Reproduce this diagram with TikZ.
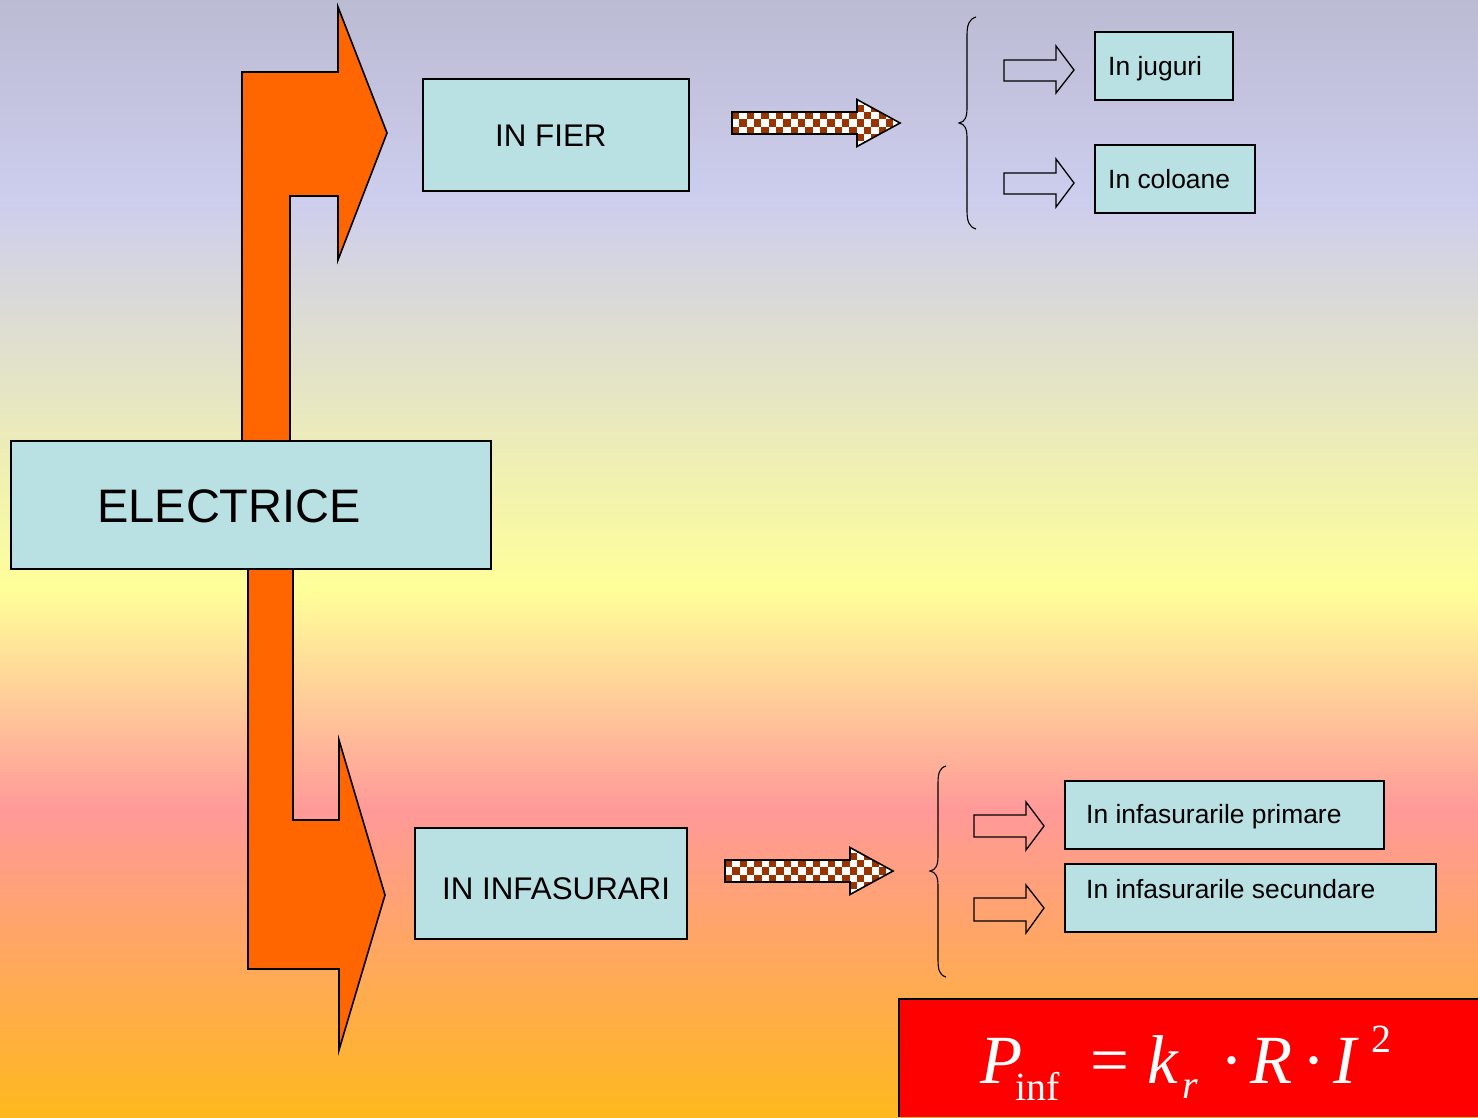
\documentclass[tikz,border=0pt]{standalone}
\usepackage{fontspec}
\setmainfont{Liberation Sans}
\newfontfamily\formfont{Liberation Serif}
\definecolor{bgtop}{HTML}{BBBBD3}
\definecolor{bglav}{HTML}{CDCDEE}
\definecolor{bgyel}{HTML}{FFFF99}
\definecolor{bgpink}{HTML}{FF9999}
\definecolor{bgbot}{HTML}{FFB81E}
\definecolor{boxfill}{HTML}{B9E0E3}
\definecolor{bigarrow}{HTML}{FF6600}
\definecolor{checker}{HTML}{993300}
\newcommand{\chkarrow}[1]{%
  \begin{scope}[shift={#1}]
    \begin{scope}
      \clip (0,-11) -- (125,-11) -- (125,-23.5) -- (168,0) -- (125,23.5) -- (125,11) -- (0,11) -- cycle;
      \fill[white] (-2,-30) rectangle (172,30);
      \foreach \i in {0,2,...,24}{
        \foreach \j in {0,2,4,6}{
          \fill[checker] (\i*7.333,-25.67+\j*7.333) rectangle ++(7.333,7.333);
          \fill[checker] (\i*7.333+7.333,-25.67+\j*7.333+7.333) rectangle ++(7.333,7.333);
        }
      }
    \end{scope}
    \draw[line width=1.6pt,line join=miter] (0,-11) -- (125,-11) -- (125,-23.5) -- (168,0) -- (125,23.5) -- (125,11) -- (0,11) -- cycle;
  \end{scope}}
\begin{document}
\begin{tikzpicture}[x=1pt,y=-1pt,
  box/.style={draw=black,line width=1.5pt,fill=boxfill,inner sep=0pt},
  txt/.style={anchor=base west,inner sep=0pt,text=black},
  outarrow/.style={draw=black,line width=1.3pt,line join=miter},
  curly/.style={draw=black,line width=1.1pt},
  orangearrow/.style={fill=bigarrow,draw=black,line width=1.6pt,line join=miter},
  formtxt/.style={anchor=base west,inner sep=0pt,text=white,font=\formfont}]
\useasboundingbox (0,0) rectangle (1478,1117);
% background bands
\shade[top color=bgtop,bottom color=bglav] (0,0) rectangle (1478,200.5);
\shade[top color=bglav,bottom color=bgyel] (0,200) rectangle (1478,590.5);
\shade[top color=bgyel,bottom color=bgpink] (0,590) rectangle (1478,810.5);
\shade[top color=bgpink,bottom color=bgbot] (0,810) rectangle (1478,1117);

% large orange arrows
\path[orangearrow] (242,470) -- (242,72) -- (338,72) -- (338,7) -- (387,133) -- (338,260) -- (338,196) -- (290,196) -- (290,470) -- cycle;
\path[orangearrow] (248,540) -- (248,969) -- (339,969) -- (339,1050) -- (385,895) -- (339,740) -- (339,820) -- (293,820) -- (293,540) -- cycle;

% main boxes
\node[box,minimum width=480pt,minimum height=128pt] (elec) at (251,505) {};
\node[txt,font=\fontsize{47}{56}\selectfont] (electxt) at (97,522) {ELECTRICE};
\node[box,minimum width=266pt,minimum height=112pt] (fier) at (556,135) {};
\node[txt,font=\fontsize{31.3}{38}\selectfont] (fiertxt) at (495,146) {IN FIER};
\node[box,minimum width=272pt,minimum height=111pt] (infas) at (551,883.5) {};
\node[txt,font=\fontsize{31.3}{38}\selectfont] (infastxt) at (442,899) {IN INFASURARI};

% checkered arrows
\chkarrow{(732,123)}
\chkarrow{(725,871)}

% braces
\draw[curly] (976,17) .. controls (969,19) and (967,25) .. (967,35) -- (967,108)
  .. controls (967,117) and (965,122) .. (959,123)
  .. controls (965,124) and (967,129) .. (967,138) -- (967,211)
  .. controls (967,221) and (969,227) .. (976,229);
\draw[curly] (946,766) .. controls (939,768) and (938,774) .. (938,784) -- (938,856)
  .. controls (938,865) and (936,870) .. (930,871)
  .. controls (936,872) and (938,877) .. (938,886) -- (938,959)
  .. controls (938,969) and (939,975) .. (946,977);

% small outlined arrows
\draw[outarrow] (1004,60) -- (1056,60) -- (1056,46) -- (1074,70) -- (1056,93) -- (1056,81) -- (1004,81) -- cycle;
\draw[outarrow] (1004,173) -- (1056,173) -- (1056,159) -- (1074,183) -- (1056,207) -- (1056,194) -- (1004,194) -- cycle;
\draw[outarrow] (974,815) -- (1026,815) -- (1026,802) -- (1044,826) -- (1026,850) -- (1026,837) -- (974,837) -- cycle;
\draw[outarrow] (974,898) -- (1026,898) -- (1026,885) -- (1044,908) -- (1026,933) -- (1026,921) -- (974,921) -- cycle;

% sub boxes
\node[box,minimum width=138pt,minimum height=68pt] (jug) at (1164,66) {};
\node[txt,font=\fontsize{26.4}{32}\selectfont] (jugtxt) at (1108,75) {In juguri};
\node[box,minimum width=160pt,minimum height=68pt] (col) at (1175,179) {};
\node[txt,font=\fontsize{26.4}{32}\selectfont] (coltxt) at (1108,188) {In coloane};
\node[box,minimum width=319pt,minimum height=68pt] (prim) at (1224.5,815) {};
\node[txt,font=\fontsize{26.4}{32}\selectfont] (primtxt) at (1086,823) {In infasurarile primare};
\node[box,minimum width=371pt,minimum height=68pt] (sec) at (1250.5,898) {};
\node[txt,font=\fontsize{26.4}{32}\selectfont] (sectxt) at (1086,898) {In infasurarile secundare};

% loss formula
\fill[red] (899,999) rectangle (1478,1117);
\draw[black,line width=1.6pt] (899,1117) -- (899,999) -- (1478,999);
\node[formtxt,font=\formfont\itshape\fontsize{69}{80}\selectfont] (fp) at (980,1083) {P};
\node[formtxt,font=\formfont\fontsize{40}{48}\selectfont] (finf) at (1015,1100) {inf};
\node[formtxt,font=\formfont\fontsize{69}{80}\selectfont] (feq) at (1090,1083) {=};
\node[formtxt,font=\formfont\itshape\fontsize{69}{80}\selectfont] (fk) at (1147,1083) {k};
\node[formtxt,font=\formfont\itshape\fontsize{40}{48}\selectfont] (fr) at (1182,1098) {r};
\node[formtxt,font=\formfont\fontsize{69}{80}\selectfont] (fd1) at (1220,1083) {·};
\node[formtxt,font=\formfont\itshape\fontsize{69}{80}\selectfont] (fR) at (1250,1083) {R};
\node[formtxt,font=\formfont\fontsize{69}{80}\selectfont] (fd2) at (1302,1083) {·};
\node[formtxt,font=\formfont\itshape\fontsize{69}{80}\selectfont] (fI) at (1333,1083) {I};
\node[formtxt,font=\formfont\fontsize{40}{48}\selectfont] (f2) at (1371,1052) {2};
\end{tikzpicture}
\end{document}
